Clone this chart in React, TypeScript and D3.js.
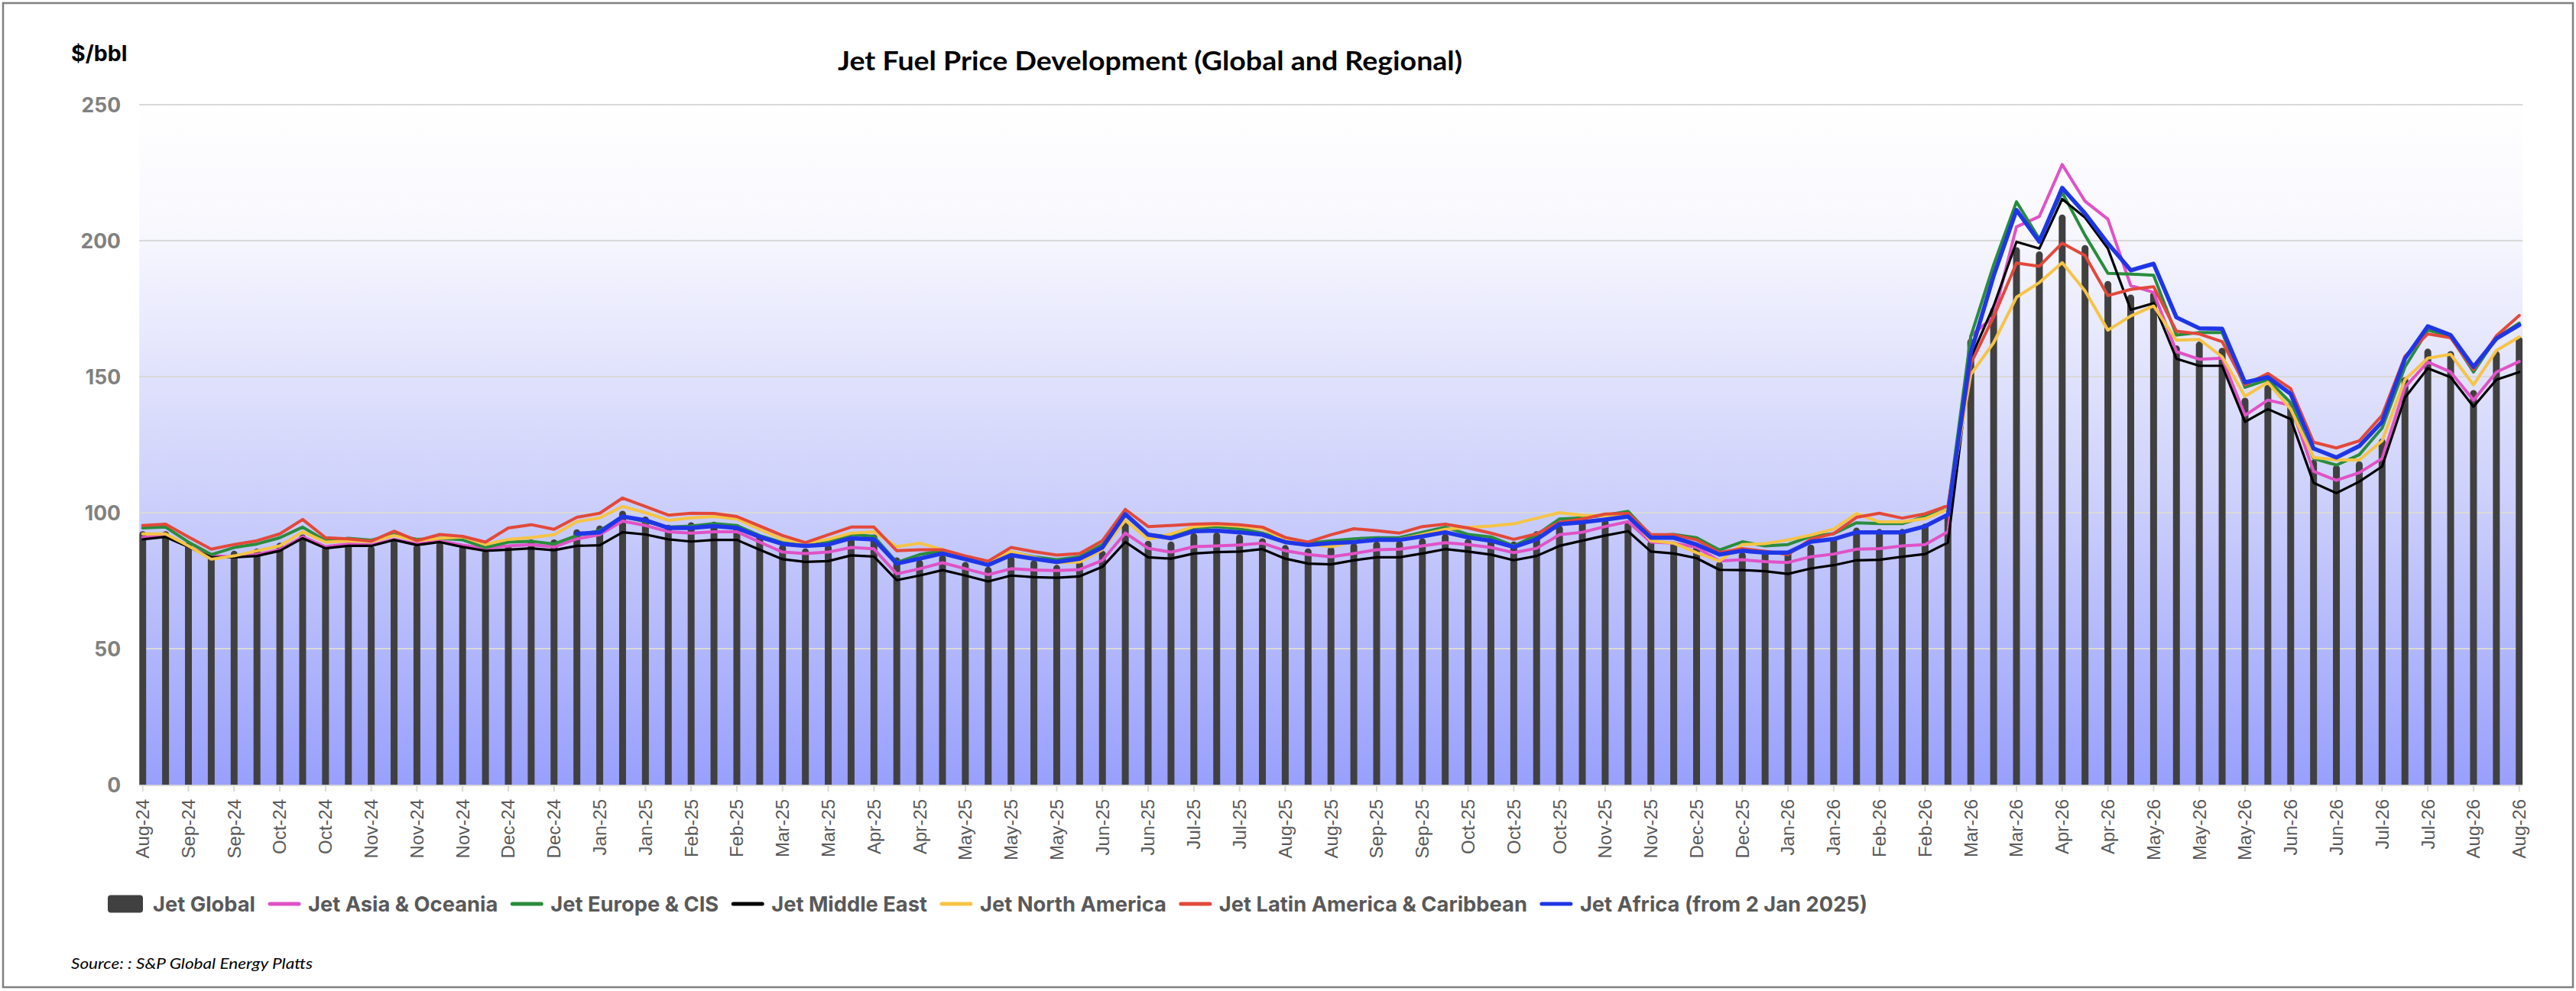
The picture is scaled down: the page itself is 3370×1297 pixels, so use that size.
import React, { useEffect, useRef } from 'react';
import * as d3 from 'd3';

// weekly observations, one tick label every second week
const tickLabels = [
  'Aug-24', 'Sep-24', 'Sep-24', 'Oct-24', 'Oct-24', 'Nov-24', 'Nov-24', 'Nov-24', 'Dec-24', 'Dec-24',
  'Jan-25', 'Jan-25', 'Feb-25', 'Feb-25', 'Mar-25', 'Mar-25', 'Apr-25', 'Apr-25', 'May-25', 'May-25',
  'May-25', 'Jun-25', 'Jun-25', 'Jul-25', 'Jul-25', 'Aug-25', 'Aug-25', 'Sep-25', 'Sep-25', 'Oct-25',
  'Oct-25', 'Oct-25', 'Nov-25', 'Nov-25', 'Dec-25', 'Dec-25', 'Jan-26', 'Jan-26', 'Feb-26', 'Feb-26',
  'Mar-26', 'Mar-26', 'Apr-26', 'Apr-26', 'May-26', 'May-26', 'May-26', 'Jun-26', 'Jun-26', 'Jul-26',
  'Jul-26', 'Aug-26', 'Aug-26',
];

const jetGlobal = [
  93.2, 93.2, 89.2, 85.0, 86.0, 86.8, 89.0, 92.0, 87.8, 89.0, 87.8, 89.9, 88.3, 89.2, 87.8, 86.4, 88.0,
  90.2, 90.2, 93.9, 95.3, 100.7, 98.6, 95.6, 96.5, 96.7, 95.8, 92.0, 88.3, 86.9, 88.3, 90.9, 92.0, 83.6,
  82.7, 84.4, 81.9, 80.1, 84.1, 82.5, 80.8, 82.2, 86.0, 96.3, 89.7, 89.4, 92.5, 92.8, 92.0, 90.6, 88.1,
  86.9, 87.4, 88.8, 89.4, 89.7, 90.6, 92.2, 90.4, 91.0, 89.4, 93.2, 95.3, 97.7, 97.5, 96.7, 89.7, 89.4,
  88.5, 82.0, 85.5, 85.5, 86.0, 88.3, 90.8, 94.5, 94.0, 94.0, 96.0, 99.5, 164.0, 175.5, 197.6, 196.1, 209.6,
  198.4, 185.2, 180.2, 181.2, 161.5, 162.9, 160.6, 142.3, 147.0, 140.0, 119.4, 117.5, 118.9, 127.3, 149.8,
  160.3, 159.4, 145.1, 159.4, 164.6,
];

const jetAsia = [
  90.9, 91.6, 87.5, 84.1, 83.8, 84.6, 86.4, 91.1, 87.5, 88.5, 88.1, 90.2, 88.5, 89.6, 88.1, 86.9, 87.8,
  88.3, 87.4, 90.4, 91.9, 96.9, 95.3, 93.0, 92.5, 93.0, 93.0, 89.2, 85.5, 85.0, 85.5, 87.2, 86.7, 77.5,
  79.4, 81.6, 79.4, 77.2, 79.4, 78.9, 78.7, 79.1, 82.5, 92.5, 86.9, 85.5, 87.5, 87.8, 88.1, 88.8, 86.0,
  84.6, 83.8, 85.0, 86.4, 86.6, 87.8, 89.0, 88.3, 87.2, 85.3, 86.9, 91.9, 92.8, 94.9, 96.7, 89.2, 88.8,
  87.3, 82.2, 82.7, 82.0, 81.7, 83.8, 84.8, 86.6, 86.8, 87.8, 88.3, 93.0, 165.0, 172.0, 205.1, 208.9, 228.0,
  214.5, 207.9, 183.5, 181.0, 159.2, 156.4, 156.8, 135.8, 141.4, 139.5, 115.2, 111.9, 114.7, 119.9, 146.1,
  155.4, 151.7, 141.4, 151.7, 155.6,
];

const jetEurope = [
  94.4, 94.7, 89.2, 84.6, 87.2, 88.5, 90.8, 94.7, 89.7, 90.6, 89.9, 92.0, 90.2, 90.6, 90.0, 87.2, 89.2,
  89.5, 88.5, 91.6, 93.4, 98.6, 96.7, 94.7, 95.1, 96.0, 95.3, 91.6, 89.0, 87.8, 89.2, 92.0, 91.3, 81.7,
  84.6, 86.0, 83.4, 81.3, 85.5, 83.8, 82.7, 83.8, 88.3, 99.1, 92.0, 91.1, 94.4, 94.9, 94.1, 92.5, 90.0,
  88.8, 89.7, 90.4, 90.8, 90.9, 92.8, 94.7, 92.0, 91.1, 87.8, 91.9, 97.7, 98.1, 99.1, 100.5, 91.6, 92.0,
  90.8, 86.3, 89.3, 87.8, 88.3, 91.3, 92.3, 96.3, 96.0, 96.0, 98.6, 101.3, 164.8, 191.1, 214.3, 200.6, 217.7,
  202.0, 188.0, 187.7, 187.3, 165.3, 166.2, 166.2, 146.1, 148.9, 140.4, 119.9, 117.5, 121.3, 131.1, 153.6,
  167.1, 164.8, 151.7, 164.3, 169.7,
];

const jetMiddleEast = [
  90.2, 91.1, 87.4, 83.6, 83.6, 84.1, 86.0, 90.6, 86.9, 87.8, 87.8, 90.0, 88.1, 89.2, 87.4, 86.0, 86.4,
  86.9, 86.2, 87.8, 88.0, 92.8, 92.0, 90.2, 89.4, 90.0, 90.0, 86.4, 82.9, 81.9, 82.2, 84.3, 83.9, 75.2,
  76.9, 78.9, 76.9, 74.7, 76.9, 76.3, 76.1, 76.6, 80.1, 89.2, 83.6, 83.1, 85.0, 85.5, 85.7, 86.6, 83.1,
  81.3, 81.0, 82.5, 83.6, 83.6, 85.0, 86.6, 85.7, 84.6, 82.5, 84.1, 87.8, 89.7, 91.6, 93.2, 85.7, 85.0,
  83.3, 79.0, 78.9, 78.5, 77.5, 79.5, 80.7, 82.5, 82.7, 83.8, 84.8, 89.0, 156.8, 176.0, 199.6, 197.1, 215.3,
  208.5, 197.1, 174.6, 177.0, 156.6, 154.0, 154.0, 133.4, 138.1, 134.4, 111.0, 107.2, 111.4, 117.0, 142.3,
  153.1, 149.8, 139.0, 148.9, 151.7,
];

const jetNorthAmerica = [
  92.2, 92.2, 87.8, 82.9, 84.1, 86.0, 87.8, 93.0, 89.2, 89.6, 89.4, 91.6, 89.7, 90.6, 91.1, 88.3, 90.2,
  90.9, 91.9, 96.7, 98.1, 102.3, 100.0, 97.2, 98.1, 98.6, 97.7, 93.9, 90.2, 88.8, 90.2, 92.5, 93.0, 87.5,
  88.8, 86.4, 83.6, 81.7, 85.7, 83.6, 81.6, 81.9, 86.4, 97.2, 90.2, 92.2, 94.9, 95.6, 95.0, 94.1, 90.2,
  88.5, 87.5, 89.4, 90.2, 90.2, 92.0, 93.9, 94.6, 95.1, 95.9, 98.0, 100.0, 99.0, 98.9, 99.6, 89.7, 88.8,
  85.3, 82.2, 88.3, 88.6, 90.0, 91.8, 94.0, 99.6, 96.6, 96.6, 97.8, 101.3, 150.8, 162.5, 179.2, 184.6, 191.9,
  181.5, 167.1, 172.3, 176.0, 163.4, 163.7, 157.3, 142.8, 147.9, 138.1, 120.3, 119.4, 119.4, 126.4, 148.9,
  156.8, 158.2, 147.0, 159.6, 164.6,
];

const jetLatinAmerica = [
  95.3, 95.8, 91.1, 86.6, 88.3, 89.7, 92.2, 97.5, 90.8, 90.4, 89.5, 93.2, 89.7, 92.0, 91.3, 89.2, 94.4,
  95.6, 93.9, 98.3, 99.8, 105.4, 102.3, 99.1, 99.8, 99.7, 98.6, 95.1, 91.6, 89.0, 91.9, 94.7, 94.7, 86.0,
  86.4, 86.4, 84.1, 82.2, 87.2, 85.7, 84.4, 85.0, 89.7, 101.2, 94.9, 95.3, 95.8, 96.0, 95.6, 94.7, 90.9,
  89.2, 91.9, 94.1, 93.4, 92.5, 94.9, 95.8, 94.4, 92.5, 90.2, 92.2, 96.5, 97.7, 99.5, 99.7, 92.0, 91.9,
  90.0, 85.3, 86.8, 85.8, 84.6, 90.3, 92.3, 98.3, 99.8, 98.0, 99.6, 102.6, 154.8, 172.0, 191.8, 190.6, 199.1,
  194.5, 179.8, 182.1, 183.1, 166.7, 165.7, 162.9, 147.0, 151.2, 145.6, 125.9, 123.8, 126.4, 135.8, 157.5,
  165.7, 164.3, 152.6, 165.0, 172.5,
];

// no Africa assessment before 2 Jan 2025
const jetAfrica = [
  null, null, null, null, null, null, null, null, null, null, null, null, null, null, null, null, null,
  null, null, 92.2, 92.8, 98.6, 97.2, 94.4, 94.4, 95.1, 94.4, 91.1, 88.5, 87.8, 88.3, 90.6, 90.2, 81.3,
  83.1, 85.0, 82.9, 80.8, 84.4, 83.1, 81.9, 83.1, 87.2, 99.5, 91.9, 90.6, 93.2, 93.4, 92.8, 91.9, 89.2,
  88.1, 88.8, 89.2, 90.0, 90.0, 91.3, 92.8, 90.9, 89.7, 87.4, 90.2, 95.8, 96.5, 97.5, 98.6, 90.8, 90.8,
  88.3, 84.6, 86.0, 85.3, 85.3, 89.3, 90.3, 92.8, 92.8, 92.8, 95.0, 99.3, 158.8, 187.1, 211.3, 199.6, 219.4,
  210.0, 199.0, 189.1, 191.5, 171.8, 167.8, 167.6, 147.9, 149.8, 143.7, 123.6, 120.3, 124.5, 133.4, 156.6,
  168.5, 165.3, 153.6, 164.0, 169.0,
];

const yTicks = [0, 50, 100, 150, 200, 250];

const lineSeries = [
  { name: 'Jet Asia & Oceania', values: jetAsia, color: '#e052c6', width: 4 },
  { name: 'Jet Europe & CIS', values: jetEurope, color: '#2a8c3c', width: 4 },
  { name: 'Jet Middle East', values: jetMiddleEast, color: '#000000', width: 3.2 },
  { name: 'Jet North America', values: jetNorthAmerica, color: '#f6c445', width: 4 },
  { name: 'Jet Latin America & Caribbean', values: jetLatinAmerica, color: '#e2493a', width: 4 },
  { name: 'Jet Africa (from 2 Jan 2025)', values: jetAfrica, color: '#1f36e6', width: 5.5 },
];

const W = 3370;
const H = 1297;
const plot = { left: 186.7, right: 3295.7, top: 137, bottom: 1027 };
const barWidth = 9;
const barColor = '#404040';

const drawChart = (svgEl: SVGSVGElement) => {
  const svg = d3.select(svgEl);
  svg.selectAll('*').remove();

  const idx = d3.range(jetGlobal.length);
  const x = d3.scalePoint<number>().domain(idx).range([plot.left, plot.right]);
  const y = d3.scaleLinear().domain([0, 250]).range([plot.bottom, plot.top]);

  // 외곽 테두리
  svg
    .append('rect')
    .attr('x', 4)
    .attr('y', 4)
    .attr('width', W - 8)
    .attr('height', H - 9)
    .attr('fill', '#fff')
    .attr('stroke', '#808080')
    .attr('stroke-width', 2.5);

  const defs = svg.append('defs');
  const grad = defs
    .append('linearGradient')
    .attr('id', 'plotBg')
    .attr('x1', 0)
    .attr('y1', 0)
    .attr('x2', 0)
    .attr('y2', 1);
  grad.append('stop').attr('offset', '0%').attr('stop-color', '#ffffff');
  grad.append('stop').attr('offset', '18%').attr('stop-color', '#f8f8fe');
  grad.append('stop').attr('offset', '55%').attr('stop-color', '#d0d3fb');
  grad.append('stop').attr('offset', '100%').attr('stop-color', '#98a0fd');

  const bgLeft = plot.left - barWidth / 2;
  const bgRight = plot.right + barWidth / 2;
  svg
    .append('rect')
    .attr('x', bgLeft)
    .attr('y', plot.top)
    .attr('width', bgRight - bgLeft)
    .attr('height', plot.bottom - plot.top)
    .attr('fill', 'url(#plotBg)');

  // gridlines
  svg
    .append('g')
    .selectAll('line')
    .data(yTicks.filter((t) => t > 0))
    .join('line')
    .attr('x1', bgLeft)
    .attr('x2', bgRight)
    .attr('y1', (d) => y(d))
    .attr('y2', (d) => y(d))
    .attr('stroke', '#d9d9d9')
    .attr('stroke-width', 2);

  // y tick labels
  svg
    .append('g')
    .selectAll('text')
    .data(yTicks)
    .join('text')
    .attr('x', 158)
    .attr('y', (d) => y(d))
    .attr('dy', '0.36em')
    .attr('text-anchor', 'end')
    .attr('font-family', 'Inter, sans-serif')
    .attr('font-weight', 700)
    .attr('font-size', 26.5)
    .attr('fill', '#808080')
    .text((d) => d);

  svg
    .append('text')
    .attr('x', 93)
    .attr('y', 80)
    .attr('font-family', 'Inter, sans-serif')
    .attr('font-weight', 700)
    .attr('font-size', 28.5)
    .attr('fill', '#000')
    .text('$/bbl');

  svg
    .append('text')
    .attr('x', 1096)
    .attr('y', 92)
    .attr('font-family', 'Lato, sans-serif')
    .attr('font-weight', 700)
    .attr('font-size', 35)
    .attr('textLength', 817)
    .attr('lengthAdjust', 'spacingAndGlyphs')
    .attr('fill', '#000')
    .text('Jet Fuel Price Development (Global and Regional)');

  // bars with rounded tops
  const clip = defs.append('clipPath').attr('id', 'plotClip');
  clip
    .append('rect')
    .attr('x', bgLeft)
    .attr('y', 0)
    .attr('width', bgRight - bgLeft)
    .attr('height', plot.bottom);

  const r = barWidth / 2;
  svg
    .append('g')
    .attr('clip-path', 'url(#plotClip)')
    .selectAll('path')
    .data(jetGlobal)
    .join('path')
    .attr('d', (v, i) => {
      const cx = x(i)!;
      const top = y(v);
      const x0 = cx - r;
      const x1 = cx + r;
      return `M${x0},${plot.bottom}V${top + r}A${r},${r} 0 0 1 ${x1},${top + r}V${plot.bottom}Z`;
    })
    .attr('fill', barColor);

  // x axis line + ticks
  svg
    .append('line')
    .attr('x1', bgLeft)
    .attr('x2', bgRight)
    .attr('y1', plot.bottom + 1)
    .attr('y2', plot.bottom + 1)
    .attr('stroke', '#d9d9d9')
    .attr('stroke-width', 2);

  const tickIdx = idx.filter((i) => i % 2 === 0);
  svg
    .append('g')
    .selectAll('line')
    .data(tickIdx)
    .join('line')
    .attr('x1', (i) => x(i)!)
    .attr('x2', (i) => x(i)!)
    .attr('y1', plot.bottom)
    .attr('y2', plot.bottom + 9)
    .attr('stroke', '#d9d9d9')
    .attr('stroke-width', 2);

  svg
    .append('g')
    .selectAll('text')
    .data(tickIdx)
    .join('text')
    .attr('transform', (i) => `translate(${x(i)},1046) rotate(-90)`)
    .attr('text-anchor', 'end')
    .attr('dy', '0.35em')
    .attr('font-family', '"Liberation Sans", Arial, sans-serif')
    .attr('font-size', 24)
    .attr('fill', '#595959')
    .text((_, k) => tickLabels[k]);

  // lines
  const lineGen = d3
    .line<number | null>()
    .defined((d) => d != null)
    .x((_, i) => x(i)!)
    .y((d) => y(d as number));

  const linesG = svg.append('g').attr('clip-path', 'url(#plotClip)');
  lineSeries.forEach((s) => {
    linesG
      .append('path')
      .datum(s.values)
      .attr('d', lineGen)
      .attr('fill', 'none')
      .attr('stroke', s.color)
      .attr('stroke-width', s.width)
      .attr('stroke-linejoin', 'round')
      .attr('stroke-linecap', 'round');
  });

  // legend
  const legendY = 1183;
  const legend = svg
    .append('g')
    .attr('font-family', 'Inter, sans-serif')
    .attr('font-weight', 700)
    .attr('font-size', 27.3)
    .attr('fill', '#595959');
  let cursor = 141;
  legend
    .append('rect')
    .attr('x', cursor)
    .attr('y', legendY - 11.5)
    .attr('width', 46)
    .attr('height', 23)
    .attr('rx', 4)
    .attr('fill', barColor);
  cursor += 46 + 13;
  const first = legend.append('text').attr('x', cursor).attr('y', legendY + 9.5).text('Jet Global');
  cursor += (first.node() as SVGTextElement).getComputedTextLength() + 17;

  lineSeries.forEach((s) => {
    legend
      .append('line')
      .attr('x1', cursor + 2)
      .attr('x2', cursor + 40)
      .attr('y1', legendY)
      .attr('y2', legendY)
      .attr('stroke', s.color)
      .attr('stroke-width', 5)
      .attr('stroke-linecap', 'round');
    cursor += 42 + 10;
    const t = legend.append('text').attr('x', cursor).attr('y', legendY + 9.5).text(s.name);
    cursor += (t.node() as SVGTextElement).getComputedTextLength() + 17;
  });

  svg
    .append('text')
    .attr('x', 93)
    .attr('y', 1268)
    .attr('font-family', 'Lato, sans-serif')
    .attr('font-style', 'italic')
    .attr('font-weight', 400)
    .attr('font-size', 20)
    .attr('textLength', 316)
    .attr('lengthAdjust', 'spacingAndGlyphs')
    .attr('fill', '#000')
    .text('Source: : S&P Global Energy Platts');
};

const App: React.FC = () => {
  const ref = useRef<SVGSVGElement>(null);

  useEffect(() => {
    document.body.style.margin = '0';
    if (ref.current) drawChart(ref.current);
  }, []);

  return <svg ref={ref} width={W} height={H} style={{ display: 'block' }} />;
};

export default App;
